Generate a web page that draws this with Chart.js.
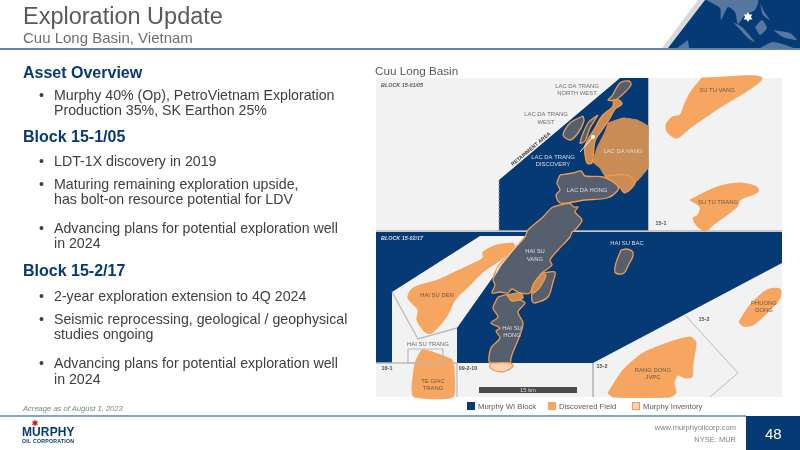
<!DOCTYPE html>
<html>
<head>
<meta charset="utf-8">
<title>Exploration Update</title>
<script src="https://cdn.jsdelivr.net/npm/chart.js@4"></script>
<style>
  html, body { margin: 0; padding: 0; background: #fff; }
  #slide { position: relative; width: 800px; height: 450px; overflow: hidden; font-family: "Liberation Sans", Arial, sans-serif; }
  #slide canvas { position: absolute; left: 0; top: 0; }
  .t { position: absolute; white-space: nowrap; transform: translateY(-50%); }
  .title { font-size: 23.5px; color: #58595b; }
  .subtitle { font-size: 15px; color: #6d6e71; }
  .head { font-size: 16px; font-weight: bold; color: #063a74; }
  .body { font-size: 14.2px; color: #3f4042; }
  .note { font-size: 7.6px; font-style: italic; color: #808285; }
  .map-title { font-size: 11.7px; color: #58595b; }
  .legend { font-size: 7.7px; color: #58595b; }
  .foot { font-size: 7.5px; color: #808285; }
  .page { font-size: 15px; color: #fff; }
  .logo { font-size: 12px; font-weight: bold; color: #063a74; letter-spacing: 0.1px; }
  .logo2 { font-size: 5.2px; font-weight: bold; color: #063a74; letter-spacing: 0.25px; }
  .swatch { position: absolute; width: 8px; height: 8px; box-sizing: border-box; }
</style>
</head>
<body>
<div id="slide"><canvas id="map" width="800" height="450"></canvas></div>
<script>
// colours
const NAVY = '#063a74', ORANGE = '#f6a660', EDGE = '#f09a50', DARKOR = '#c98c55';
const FIELD = '#565f6e', PALE = '#f2f2f2', RULE = '#b9babb', PEACH = '#f8d3b2', LAND = '#54789f';

// map outlines in page pixels
const background = [[376,78],[782,78],[782,397],[376,397],[376,78]];
const block1505 = [[499,180],[620,78],[648,78],[648,231],[499,231],[499,180]];
const block1502 = [[376,232],[782,232],[782,263],[593,363],[457,363],[392,363],[376,363],[376,232]];
const haiSuPocket = [[392,292],[480,236],[525,236],[493,277],[457,328],[457,363],[392,363],[392,292]];

const suTuVang = [[702,78],[762,78],[713,112],[690,128],[677,138],[668,133],[666,125],[672,117],[680,115],[685,103],[692,90],[702,78]];
const suTuTrang = [[690,200],[717,187],[740,183],[757,187],[758,192],[740,200],[737,207],[713,225],[706,231],[698,227],[693,218],[698,215],[700,207],[690,200]];
const haiSuDen = [[513,243],[515,247],[503,258],[483,272],[470,285],[455,300],[447,316],[432,333],[425,332],[417,320],[418,310],[408,298],[413,288],[438,280],[455,272],[470,265],[483,258],[483,252],[497,245],[513,243]];
const teGiacTrang = [[415,363],[422,350],[435,353],[452,360],[454,370],[453,397],[414,397],[412,387],[415,363]];
const rangDong = [[608,393],[623,370],[643,353],[670,342],[690,337],[696,342],[693,363],[692,377],[685,378],[678,375],[674,383],[676,393],[670,397],[613,397],[608,393]];
const phuongDong = [[739,322],[750,305],[767,290],[780,289],[780,298],[770,310],[753,325],[743,326],[739,322]];

const lacDaVang = [[608,123],[623,118],[637,120],[648,126],[648,140],[648,155],[648,168],[635,183],[627,175],[605,176],[600,168],[593,162],[597,148],[605,132],[608,123]];
const lacDaVangSouth = [[605,176],[627,175],[635,183],[625,193],[620,188],[612,185],[605,176]];
const lacDaTrangNW = [[612,96],[620,83],[629,81],[631,85],[622,95],[615,100],[608,100],[612,96]];
const lacDaTrangW = [[583,116],[584,121],[578,133],[570,140],[563,135],[570,123],[583,116]];
const lacDaTrangSliver = [[598,115],[590,128],[585,141],[580,143],[588,123],[598,115]];
const lacDaTrangBody = [[613,100],[619,100],[622,104],[615,109],[610,118],[602,130],[595,141],[592,163],[587,163],[585,146],[595,128],[602,116],[613,106],[613,100]];
const lacDaHong = [[560,175],[573,173],[581,171],[585,176],[603,177],[617,185],[618,190],[607,198],[585,200],[573,202],[560,203],[556,195],[560,190],[557,183],[560,175]];
const haiSuVang = [[570,203],[574,207],[578,207],[575,212],[582,220],[575,230],[572,232],[570,237],[558,250],[550,260],[552,265],[542,273],[533,285],[530,293],[520,293],[512,289],[508,293],[500,292],[492,293],[495,285],[493,280],[497,268],[508,255],[525,237],[528,230],[543,217],[553,207],[570,203]];
const haiSuVangEdge = [[525,236],[515,247],[497,268],[494,278],[501,266],[525,236]];
const haiSuOutlier = [[542,273],[555,272],[553,282],[548,297],[535,303],[532,301],[533,287],[542,273]];
const haiSuLens = [[542,273],[546,275],[540,287],[533,293],[533,285],[542,273]];
const haiSuHong = [[498,297],[507,295],[520,300],[525,303],[518,312],[523,323],[520,335],[513,352],[511,358],[510,363],[490,363],[491,348],[500,338],[496,331],[500,328],[491,323],[498,317],[493,308],[498,297]];
const haiSuHongTip = [[490,363],[510,363],[513,366],[508,370],[502,372],[493,370],[490,367],[490,363]];
const haiSuNeck = [[507,295],[520,293],[523,298],[512,301],[507,295]];
const haiSuBac = [[621,250],[626,249],[632,251],[633,256],[629,264],[624,273],[619,274],[615,272],[616,263],[621,250]];
const inventoryBox = [[408,349],[443,349],[443,363],[408,363],[408,349]];

// block boundary lines
const pocketRule = [[392,292],[418,339],[457,328]];
const baseRule = [[376,363],[457,363],[457,397]];
const block152Rule = [[685,315],[738,373],[710,397]];
const block152Left = [[593,363],[593,397]];
const blockSplit = [[376,231],[782,231]];
const blockEdge = [[648.5,78],[648.5,231]];
const retainment = [[499,180],[499,231]];
const discoveryPointer = [[580,152],[593,137]];
const scaleBar = [[479,390],[577,390]];

// header globe
const headerBand = [[705,0],[800,0],[800,48],[668,48],[705,0]];
const headerShade = [[698,0],[705,0],[668,48],[662,48],[698,0]];
const asiaLand = [[706,0],[720,8],[721,20],[728,7],[735,12],[738,24],[745,15],[755,10],[758,0],[706,0]];
const sumatra = [[733,22],[742,27],[755,42],[749,39],[733,22]];
const borneo = [[755,27],[762,20],[767,28],[760,35],[755,27]];
const philippines = [[760,3],[765,13],[770,20],[763,15],[760,3]];
const newGuinea = [[773,30],[790,33],[797,40],[783,37],[773,30]];
const australia = [[760,48],[773,42],[793,48],[760,48]];
const westCoast = [[677,48],[688,40],[689,48],[677,48]];
const headerRule = [[0,49],[800,49]];
const footerRule = [[0,416],[746,416]];
const pageBox = [[746,416],[800,416],[800,450],[746,450],[746,416]];
const globeStar = [[748,17]];
const logoStar = [[35,423]];

// slide text
const titleText = 'Exploration Update';
const subtitleText = 'Cuu Long Basin, Vietnam';
const headings = ['Asset Overview', 'Block 15-1/05', 'Block 15-2/17'];
const bulletLines = [
  'Murphy 40% (Op), PetroVietnam Exploration', 'Production 35%, SK Earthon 25%',
  'LDT-1X discovery in 2019',
  'Maturing remaining exploration upside,', 'has bolt-on resource potential for LDV',
  'Advancing plans for potential exploration well', 'in 2024',
  '2-year exploration extension to 4Q 2024',
  'Seismic reprocessing, geological / geophysical', 'studies ongoing',
  'Advancing plans for potential exploration well', 'in 2024'
];
const bulletStarts = [true, false, true, true, false, true, false, true, true, false, true, false];
const legendNames = ['Murphy WI Block', 'Discovered Field', 'Murphy Inventory'];

// map labels: text, x, y
const darkLabels = [['SU TU VANG',717,90],['SU TU TRANG',718,202],['HAI SU DEN',437,295],['RANG DONG',653,370],['JVPC',653,377],['PHUONG',764,303],['DONG',764,310],['TE GIAC',433,381],['TRANG',433,388]];
const greyLabels = [['LAC DA TRANG',577,86],['NORTH WEST',577,93],['LAC DA TRANG',546,114],['WEST',546,122],['HAI SU TRANG',428,344]];
const lightLabels = [['LAC DA TRANG',553,157],['DISCOVERY',553,164],['LAC DA VANG',623,151],['LAC DA HONG',587,190],['HAI SU BAC',627,243],['HAI SU',535,251],['VANG',535,259],['HAI SU',512,328],['HONG',512,335],['15 km',528,390]];
const blockLabels = [['15-1',661,224],['16-1',387,369],['09-2-10',468,369],['15-2',602,367],['15-2',704,320]];

function pts(list) { return list.map(p => ({ x: p[0], y: p[1] })); }

function area(list, color, edge, width, tension) {
  return {
    data: pts(list), backgroundColor: color, borderColor: edge || color,
    borderWidth: width === undefined ? 0 : width, fill: 'shape', pointRadius: 0,
    tension: tension || 0, capBezierPoints: false
  };
}
function field(list, color) { return area(list, color, EDGE, 1.3, 0.3); }
function rule(list, color, width, dash) {
  return { data: pts(list), borderColor: color, borderWidth: width, borderDash: dash || [], fill: false, pointRadius: 0 };
}
// two opposed triangles give the six pointed star
function star(list, color, radius, rotation) {
  return { data: pts(list), showLine: false, pointRadius: radius, pointStyle: 'triangle', pointRotation: rotation, pointBackgroundColor: color, pointBorderWidth: 0 };
}
function dot(list, color, radius) {
  return { data: pts(list), showLine: false, pointRadius: radius, pointStyle: 'circle', pointBackgroundColor: color, pointBorderWidth: 0 };
}

// bottom to top; chart.js paints the first dataset last, so this gets reversed below
const layers = [
  area(background, PALE),
  area(block1505, NAVY),
  area(block1502, NAVY),
  area(haiSuPocket, PALE),
  rule(retainment, '#8b98a8', 1, [2, 2]),
  rule(blockEdge, RULE, 1),
  rule(blockSplit, RULE, 1.5),
  rule(pocketRule, RULE, 1.3),
  rule(baseRule, RULE, 1.3),
  rule(block152Rule, RULE, 1),
  rule(block152Left, RULE, 1),
  area(suTuVang, ORANGE, ORANGE, 1, 0.3),
  area(suTuTrang, ORANGE, ORANGE, 1, 0.3),
  area(haiSuDen, ORANGE, ORANGE, 1, 0.3),
  area(teGiacTrang, ORANGE, ORANGE, 1, 0.2),
  area(rangDong, ORANGE, ORANGE, 1, 0.2),
  area(phuongDong, ORANGE, ORANGE, 1, 0.3),
  rule(inventoryBox, RULE, 1.2),
  area(lacDaVang, DARKOR, DARKOR, 1, 0.1),
  field(lacDaVangSouth, DARKOR),
  field(lacDaTrangNW, FIELD),
  field(lacDaTrangW, FIELD),
  field(lacDaTrangSliver, FIELD),
  field(lacDaTrangBody, DARKOR),
  field(lacDaHong, FIELD),
  field(haiSuVang, FIELD),
  area(haiSuVangEdge, PEACH),
  field(haiSuOutlier, FIELD),
  field(haiSuLens, DARKOR),
  field(haiSuHong, FIELD),
  field(haiSuHongTip, PEACH),
  field(haiSuNeck, DARKOR),
  field(haiSuBac, FIELD),
  rule(discoveryPointer, '#ffffff', 1),
  dot(discoveryPointer.slice(1), '#ffffff', 2),
  rule(scaleBar, '#4a4a4a', 6),
  area(headerShade, '#d9d9d9'),
  area(headerBand, NAVY),
  area(asiaLand, LAND, null, 0, 0.2),
  area(sumatra, LAND, null, 0, 0.2),
  area(borneo, LAND, null, 0, 0.2),
  area(philippines, LAND, null, 0, 0.2),
  area(newGuinea, LAND, null, 0, 0.2),
  area(australia, LAND, null, 0, 0.2),
  area(westCoast, LAND),
  star(globeStar, '#ffffff', 5, 0),
  star(globeStar, '#ffffff', 5, 180),
  rule(headerRule, '#2f5d8c', 1.6),
  rule(footerRule, '#5f86ab', 1.5),
  area(pageBox, NAVY),
  star(logoStar, '#d9261c', 3.5, 0),
  star(logoStar, '#d9261c', 3.5, 180)
];

// draws the map labels through the chart's own scales
const mapLabels = {
  id: 'mapLabels',
  afterDatasetsDraw(chart) {
    const ctx = chart.ctx, sx = chart.scales.x, sy = chart.scales.y;
    function put(list, font, color, align) {
      ctx.font = font + ' "Liberation Sans", Arial, sans-serif';
      ctx.fillStyle = color;
      ctx.textAlign = align || 'center';
      ctx.textBaseline = 'middle';
      list.forEach(l => ctx.fillText(l[0], sx.getPixelForValue(l[1]), sy.getPixelForValue(l[2])));
    }
    ctx.save();
    put(darkLabels, '5.9px', '#6b5a48');
    put(greyLabels, '5.9px', '#6d6e71');
    put(lightLabels, '5.9px', '#d9dee6');
    put(blockLabels, 'bold 5.4px', '#4a4a4a');
    put([['BLOCK 15-01/05', 381, 86]], 'italic bold 5.4px', '#58595b', 'left');
    put([['BLOCK 15-02/17', 381, 239]], 'italic bold 5.4px', '#d9dee6', 'left');
    ctx.translate(sx.getPixelForValue(531), sy.getPixelForValue(149));
    ctx.rotate(-40 * Math.PI / 180);
    ctx.font = 'bold 5.2px "Liberation Sans", Arial, sans-serif';
    ctx.fillStyle = '#3f4042';
    ctx.textAlign = 'center';
    ctx.fillText('RETAINMENT AREA', 0, 0);
    ctx.restore();
  }
};

new Chart(document.getElementById('map').getContext('2d'), {
  type: 'line',
  data: { datasets: layers.slice().reverse() },
  options: {
    responsive: false,
    animation: false,
    devicePixelRatio: 1,
    layout: { padding: 0, autoPadding: false },
    plugins: { legend: { display: false }, tooltip: { enabled: false } },
    scales: {
      x: { type: 'linear', min: 0, max: 800, display: false },
      y: { type: 'linear', min: 0, max: 450, reverse: true, display: false }
    }
  },
  plugins: [mapLabels]
});

// slide text
const slide = document.getElementById('slide');
function text(str, cls, x, y, right) {
  const d = document.createElement('div');
  d.className = 't ' + cls;
  d.textContent = str;
  d.style.top = y + 'px';
  if (right) d.style.right = (800 - x) + 'px'; else d.style.left = x + 'px';
  slide.appendChild(d);
}
text(titleText, 'title', 23, 16);
text(subtitleText, 'subtitle', 23, 37);
const headingY = [73, 137, 271];
headings.forEach((h, i) => text(h, 'head', 23, headingY[i]));
const bulletY = [95, 110, 161, 184, 199, 228, 243, 296, 319, 334, 363, 379];
bulletLines.forEach((l, i) => {
  if (bulletStarts[i]) text('•', 'body', 39, bulletY[i]);
  text(l, 'body', 54, bulletY[i]);
});
text('Acreage as of August 1, 2023', 'note', 23, 408);
text('Cuu Long Basin', 'map-title', 375, 70);
const legendX = [478, 559, 643];
const swatchX = [467, 548, 632];
const swatchStyle = ['background:' + NAVY, 'background:' + ORANGE, 'background:' + PEACH + ';border:1.3px solid ' + EDGE];
legendNames.forEach((n, i) => {
  text(n, 'legend', legendX[i], 406);
  const s = document.createElement('div');
  s.className = 'swatch';
  s.style.cssText = 'left:' + swatchX[i] + 'px;top:402px;' + swatchStyle[i];
  slide.appendChild(s);
});
text('www.murphyoilcorp.com', 'foot', 736, 427, true);
text('NYSE: MUR', 'foot', 736, 439, true);
text('48', 'page', 765, 433);
text('MURPHY', 'logo', 22, 432);
text('OIL CORPORATION', 'logo2', 22, 441);
</script>
</body>
</html>
